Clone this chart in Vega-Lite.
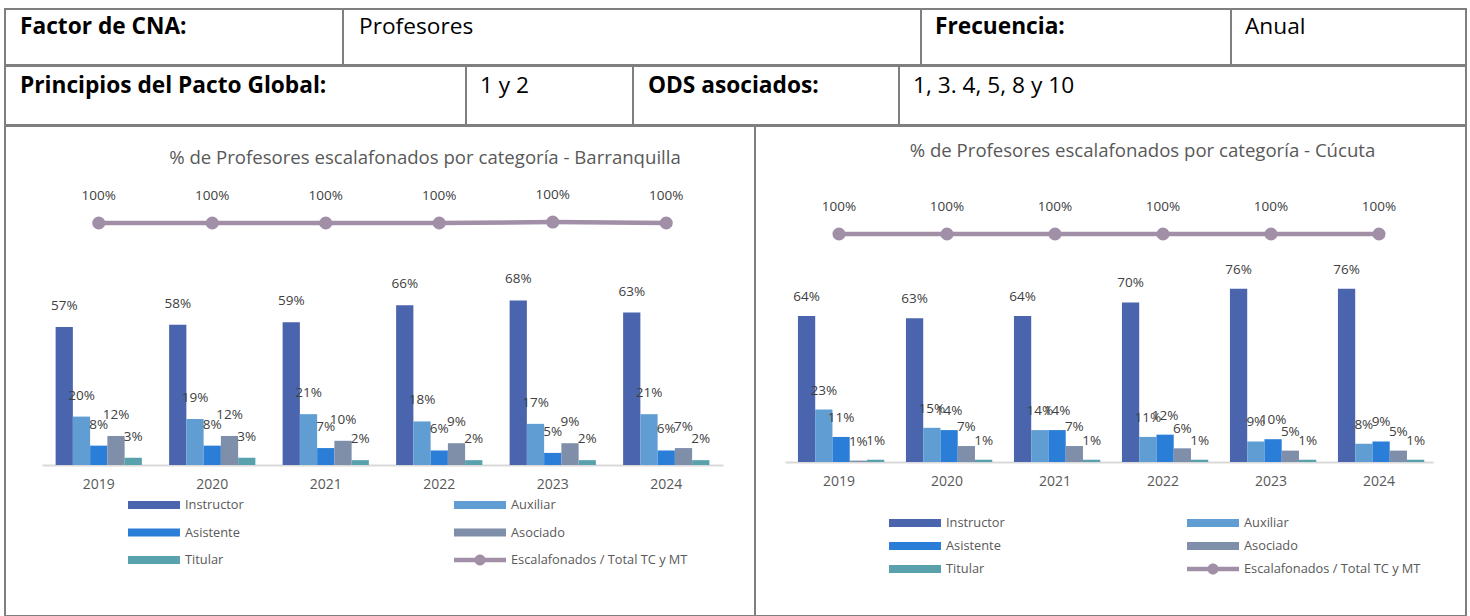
{
  "$schema": "https://vega.github.io/schema/vega-lite/v6.json",
  "padding": {"left": 4, "top": 8, "right": 0, "bottom": 0},
  "background": "white",
  "spacing": -2,
  "config": {
    "font": "Open Sans",
    "view": {"stroke": "#7F7F7F", "strokeWidth": 2},
    "concat": {"spacing": 0}
  },
  "datasets": {
    "barranquilla": [
      {"year": "2019", "s": "Instructor", "v": 0.57}, {"year": "2019", "s": "Auxiliar", "v": 0.20}, {"year": "2019", "s": "Asistente", "v": 0.08}, {"year": "2019", "s": "Asociado", "v": 0.12}, {"year": "2019", "s": "Titular", "v": 0.03}, {"year": "2019", "s": "Escalafonados / Total TC y MT", "v": 1.0},
      {"year": "2020", "s": "Instructor", "v": 0.58}, {"year": "2020", "s": "Auxiliar", "v": 0.19}, {"year": "2020", "s": "Asistente", "v": 0.08}, {"year": "2020", "s": "Asociado", "v": 0.12}, {"year": "2020", "s": "Titular", "v": 0.03}, {"year": "2020", "s": "Escalafonados / Total TC y MT", "v": 1.0},
      {"year": "2021", "s": "Instructor", "v": 0.59}, {"year": "2021", "s": "Auxiliar", "v": 0.21}, {"year": "2021", "s": "Asistente", "v": 0.07}, {"year": "2021", "s": "Asociado", "v": 0.10}, {"year": "2021", "s": "Titular", "v": 0.02}, {"year": "2021", "s": "Escalafonados / Total TC y MT", "v": 1.0},
      {"year": "2022", "s": "Instructor", "v": 0.66}, {"year": "2022", "s": "Auxiliar", "v": 0.18}, {"year": "2022", "s": "Asistente", "v": 0.06}, {"year": "2022", "s": "Asociado", "v": 0.09}, {"year": "2022", "s": "Titular", "v": 0.02}, {"year": "2022", "s": "Escalafonados / Total TC y MT", "v": 1.0},
      {"year": "2023", "s": "Instructor", "v": 0.68}, {"year": "2023", "s": "Auxiliar", "v": 0.17}, {"year": "2023", "s": "Asistente", "v": 0.05}, {"year": "2023", "s": "Asociado", "v": 0.09}, {"year": "2023", "s": "Titular", "v": 0.02}, {"year": "2023", "s": "Escalafonados / Total TC y MT", "v": 1.004},
      {"year": "2024", "s": "Instructor", "v": 0.63}, {"year": "2024", "s": "Auxiliar", "v": 0.21}, {"year": "2024", "s": "Asistente", "v": 0.06}, {"year": "2024", "s": "Asociado", "v": 0.07}, {"year": "2024", "s": "Titular", "v": 0.02}, {"year": "2024", "s": "Escalafonados / Total TC y MT", "v": 1.0}
    ],
    "cucuta": [
      {"year": "2019", "s": "Instructor", "v": 0.64}, {"year": "2019", "s": "Auxiliar", "v": 0.23}, {"year": "2019", "s": "Asistente", "v": 0.11}, {"year": "2019", "s": "Asociado", "v": 0.006}, {"year": "2019", "s": "Titular", "v": 0.01}, {"year": "2019", "s": "Escalafonados / Total TC y MT", "v": 1.0},
      {"year": "2020", "s": "Instructor", "v": 0.63}, {"year": "2020", "s": "Auxiliar", "v": 0.15}, {"year": "2020", "s": "Asistente", "v": 0.14}, {"year": "2020", "s": "Asociado", "v": 0.07}, {"year": "2020", "s": "Titular", "v": 0.01}, {"year": "2020", "s": "Escalafonados / Total TC y MT", "v": 1.0},
      {"year": "2021", "s": "Instructor", "v": 0.64}, {"year": "2021", "s": "Auxiliar", "v": 0.14}, {"year": "2021", "s": "Asistente", "v": 0.14}, {"year": "2021", "s": "Asociado", "v": 0.07}, {"year": "2021", "s": "Titular", "v": 0.01}, {"year": "2021", "s": "Escalafonados / Total TC y MT", "v": 1.0},
      {"year": "2022", "s": "Instructor", "v": 0.70}, {"year": "2022", "s": "Auxiliar", "v": 0.11}, {"year": "2022", "s": "Asistente", "v": 0.12}, {"year": "2022", "s": "Asociado", "v": 0.06}, {"year": "2022", "s": "Titular", "v": 0.01}, {"year": "2022", "s": "Escalafonados / Total TC y MT", "v": 1.0},
      {"year": "2023", "s": "Instructor", "v": 0.76}, {"year": "2023", "s": "Auxiliar", "v": 0.09}, {"year": "2023", "s": "Asistente", "v": 0.10}, {"year": "2023", "s": "Asociado", "v": 0.05}, {"year": "2023", "s": "Titular", "v": 0.01}, {"year": "2023", "s": "Escalafonados / Total TC y MT", "v": 1.0},
      {"year": "2024", "s": "Instructor", "v": 0.76}, {"year": "2024", "s": "Auxiliar", "v": 0.08}, {"year": "2024", "s": "Asistente", "v": 0.09}, {"year": "2024", "s": "Asociado", "v": 0.05}, {"year": "2024", "s": "Titular", "v": 0.01}, {"year": "2024", "s": "Escalafonados / Total TC y MT", "v": 1.0}
    ]
  },
  "resolve": {"scale": {"color": "independent"}, "legend": {"color": "independent"}},
  "vconcat": [
    {
      "spacing": 0,
      "bounds": "flush",
      "hconcat": [
        {"width": 338, "height": 56, "data": {"values": [{"t": "Factor de CNA:"}]}, "mark": {"type": "text", "align": "left", "baseline": "middle", "fontWeight": "bold", "fontSize": 22.7, "color": "#000000"}, "encoding": {"text": {"field": "t"}, "x": {"value": 15}, "y": {"value": 18}}},
        {"width": 578, "height": 56, "data": {"values": [{"t": "Profesores"}]}, "mark": {"type": "text", "align": "left", "baseline": "middle", "fontSize": 22.7, "color": "#000000"}, "encoding": {"text": {"field": "t"}, "x": {"value": 16}, "y": {"value": 18}}},
        {"width": 310, "height": 56, "data": {"values": [{"t": "Frecuencia:"}]}, "mark": {"type": "text", "align": "left", "baseline": "middle", "fontWeight": "bold", "fontSize": 22.7, "color": "#000000"}, "encoding": {"text": {"field": "t"}, "x": {"value": 14}, "y": {"value": 18}}},
        {"width": 235, "height": 56, "data": {"values": [{"t": "Anual"}]}, "mark": {"type": "text", "align": "left", "baseline": "middle", "fontSize": 22.7, "color": "#000000"}, "encoding": {"text": {"field": "t"}, "x": {"value": 14}, "y": {"value": 18}}}
      ]
    },
    {
      "spacing": 0,
      "bounds": "flush",
      "hconcat": [
        {"width": 461, "height": 59, "data": {"values": [{"t": "Principios del Pacto Global:"}]}, "mark": {"type": "text", "align": "left", "baseline": "middle", "fontWeight": "bold", "fontSize": 22.7, "color": "#000000"}, "encoding": {"text": {"field": "t"}, "x": {"value": 15}, "y": {"value": 20}}},
        {"width": 167, "height": 59, "data": {"values": [{"t": "1 y 2"}]}, "mark": {"type": "text", "align": "left", "baseline": "middle", "fontSize": 22.7, "color": "#000000"}, "encoding": {"text": {"field": "t"}, "x": {"value": 14}, "y": {"value": 20}}},
        {"width": 266, "height": 59, "data": {"values": [{"t": "ODS asociados:"}]}, "mark": {"type": "text", "align": "left", "baseline": "middle", "fontWeight": "bold", "fontSize": 22.7, "color": "#000000"}, "encoding": {"text": {"field": "t"}, "x": {"value": 15}, "y": {"value": 20}}},
        {"width": 567, "height": 59, "data": {"values": [{"t": "1, 3. 4, 5, 8 y 10"}]}, "mark": {"type": "text", "align": "left", "baseline": "middle", "fontSize": 22.7, "color": "#000000"}, "encoding": {"text": {"field": "t"}, "x": {"value": 14}, "y": {"value": 20}}}
      ]
    },
    {
      "spacing": 0,
      "bounds": "flush",
      "resolve": {"scale": {"color": "independent"}, "legend": {"color": "independent"}},
      "hconcat": [
        {
          "width": 750,
          "height": 490,
          "title": {"text": "% de Profesores escalafonados por categoría - Barranquilla", "fontSize": 18.6, "fontWeight": "normal", "color": "#595959", "anchor": "middle", "baseline": "middle", "offset": -51, "dx": 45},
          "data": {"name": "barranquilla"},
          "encoding": {
            "x": {"field": "year", "type": "nominal", "scale": {"range": [37, 718], "paddingInner": 0.24, "paddingOuter": 0.12}, "axis": {"title": null, "orient": "bottom", "offset": -151, "labelAngle": 0, "ticks": false, "domainColor": "#D9D9D9", "domainWidth": 2, "labelFontSize": 14, "labelColor": "#595959", "labelPadding": 12}},
            "y": {"field": "v", "type": "quantitative", "scale": {"domain": [0, 1], "range": [339, 97]}, "axis": null},
            "color": {"field": "s", "type": "nominal", "scale": {"domain": ["Instructor", "Auxiliar", "Asistente", "Asociado", "Titular", "Escalafonados / Total TC y MT"], "range": ["#4A65AE", "#5F9DD3", "#2A7ED8", "#7F8EA9", "#59A2AD", "#A08FA6"]},
              "legend": {"title": null, "orient": "none", "direction": "horizontal", "legendX": 123, "legendY": 369, "columns": 2, "columnPadding": 210, "rowPadding": 10.5, "padding": 0, "symbolSize": 400, "symbolStrokeWidth": 0, "labelOffset": 37, "labelFontSize": 12.8, "labelLimit": 300, "labelColor": "#595959",
                "encode": {"symbols": {"update": {"shape": {"signal": "datum.value === 'Escalafonados / Total TC y MT' ? 'M-1,-0.22H4.2V0.22H-1Z M1.05,0A0.55,0.55 0 1,1 2.15,0A0.55,0.55 0 1,1 1.05,0Z' : 'M-1,-0.4H4.2V0.4H-1Z'"}, "fill": {"signal": "{'Instructor':'#4A65AE','Auxiliar':'#5F9DD3','Asistente':'#2A7ED8','Asociado':'#7F8EA9','Titular':'#59A2AD','Escalafonados / Total TC y MT':'#A08FA6'}[datum.value]"}, "strokeWidth": {"value": 0}, "opacity": {"value": 1}}}}}}
          },
          "layer": [
            {"transform": [{"filter": "datum.s !== 'Escalafonados / Total TC y MT'"}], "mark": {"type": "bar"},
              "encoding": {"xOffset": {"field": "s", "type": "nominal", "sort": ["Instructor", "Auxiliar", "Asistente", "Asociado", "Titular"], "scale": {"paddingInner": 0, "paddingOuter": 0}}}},
            {"transform": [{"filter": "datum.s !== 'Escalafonados / Total TC y MT'"}], "mark": {"type": "text", "baseline": "bottom", "dy": -14, "fontSize": 13.5},
              "encoding": {"xOffset": {"field": "s", "type": "nominal", "sort": ["Instructor", "Auxiliar", "Asistente", "Asociado", "Titular"], "scale": {"paddingInner": 0, "paddingOuter": 0}}, "text": {"field": "v", "type": "quantitative", "format": ".0%"}, "color": {"value": "#404040"}}},
            {"transform": [{"filter": "datum.s === 'Escalafonados / Total TC y MT'"}], "mark": {"type": "line", "strokeWidth": 4.5, "point": {"filled": true, "size": 170, "opacity": 1}}},
            {"transform": [{"filter": "datum.s === 'Escalafonados / Total TC y MT'"}], "mark": {"type": "text", "baseline": "middle", "dy": -27, "fontSize": 13.5},
              "encoding": {"text": {"field": "v", "type": "quantitative", "format": ".0%"}, "color": {"value": "#404040"}}}
          ]
        },
        {
          "width": 711,
          "height": 490,
          "title": {"text": "% de Profesores escalafonados por categoría - Cúcuta", "fontSize": 18.6, "fontWeight": "normal", "color": "#595959", "anchor": "middle", "baseline": "middle", "offset": -44, "dx": 32},
          "data": {"name": "cucuta"},
          "encoding": {
            "x": {"field": "year", "type": "nominal", "scale": {"range": [30, 678], "paddingInner": 0.24, "paddingOuter": 0.12}, "axis": {"title": null, "orient": "bottom", "offset": -154, "labelAngle": 0, "ticks": false, "domainColor": "#D9D9D9", "domainWidth": 2, "labelFontSize": 14, "labelColor": "#595959", "labelPadding": 12}},
            "y": {"field": "v", "type": "quantitative", "scale": {"domain": [0, 1], "range": [336, 108]}, "axis": null},
            "color": {"field": "s", "type": "nominal", "scale": {"domain": ["Instructor", "Auxiliar", "Asistente", "Asociado", "Titular", "Escalafonados / Total TC y MT"], "range": ["#4A65AE", "#5F9DD3", "#2A7ED8", "#7F8EA9", "#59A2AD", "#A08FA6"]},
              "legend": {"title": null, "orient": "none", "direction": "horizontal", "legendX": 134, "legendY": 387, "columns": 2, "columnPadding": 182, "rowPadding": 6, "padding": 0, "symbolSize": 400, "symbolStrokeWidth": 0, "labelOffset": 37, "labelFontSize": 12.8, "labelLimit": 300, "labelColor": "#595959",
                "encode": {"symbols": {"update": {"shape": {"signal": "datum.value === 'Escalafonados / Total TC y MT' ? 'M-1,-0.22H4.2V0.22H-1Z M1.05,0A0.55,0.55 0 1,1 2.15,0A0.55,0.55 0 1,1 1.05,0Z' : 'M-1,-0.4H4.2V0.4H-1Z'"}, "fill": {"signal": "{'Instructor':'#4A65AE','Auxiliar':'#5F9DD3','Asistente':'#2A7ED8','Asociado':'#7F8EA9','Titular':'#59A2AD','Escalafonados / Total TC y MT':'#A08FA6'}[datum.value]"}, "strokeWidth": {"value": 0}, "opacity": {"value": 1}}}}}}
          },
          "layer": [
            {"transform": [{"filter": "datum.s !== 'Escalafonados / Total TC y MT'"}], "mark": {"type": "bar"},
              "encoding": {"xOffset": {"field": "s", "type": "nominal", "sort": ["Instructor", "Auxiliar", "Asistente", "Asociado", "Titular"], "scale": {"paddingInner": 0, "paddingOuter": 0}}}},
            {"transform": [{"filter": "datum.s !== 'Escalafonados / Total TC y MT'"}], "mark": {"type": "text", "baseline": "bottom", "dy": -12, "fontSize": 13.5},
              "encoding": {"xOffset": {"field": "s", "type": "nominal", "sort": ["Instructor", "Auxiliar", "Asistente", "Asociado", "Titular"], "scale": {"paddingInner": 0, "paddingOuter": 0}}, "text": {"field": "v", "type": "quantitative", "format": ".0%"}, "color": {"value": "#404040"}}},
            {"transform": [{"filter": "datum.s === 'Escalafonados / Total TC y MT'"}], "mark": {"type": "line", "strokeWidth": 4.5, "point": {"filled": true, "size": 170, "opacity": 1}}},
            {"transform": [{"filter": "datum.s === 'Escalafonados / Total TC y MT'"}], "mark": {"type": "text", "baseline": "middle", "dy": -27, "fontSize": 13.5},
              "encoding": {"text": {"field": "v", "type": "quantitative", "format": ".0%"}, "color": {"value": "#404040"}}}
          ]
        }
      ]
    }
  ]
}
